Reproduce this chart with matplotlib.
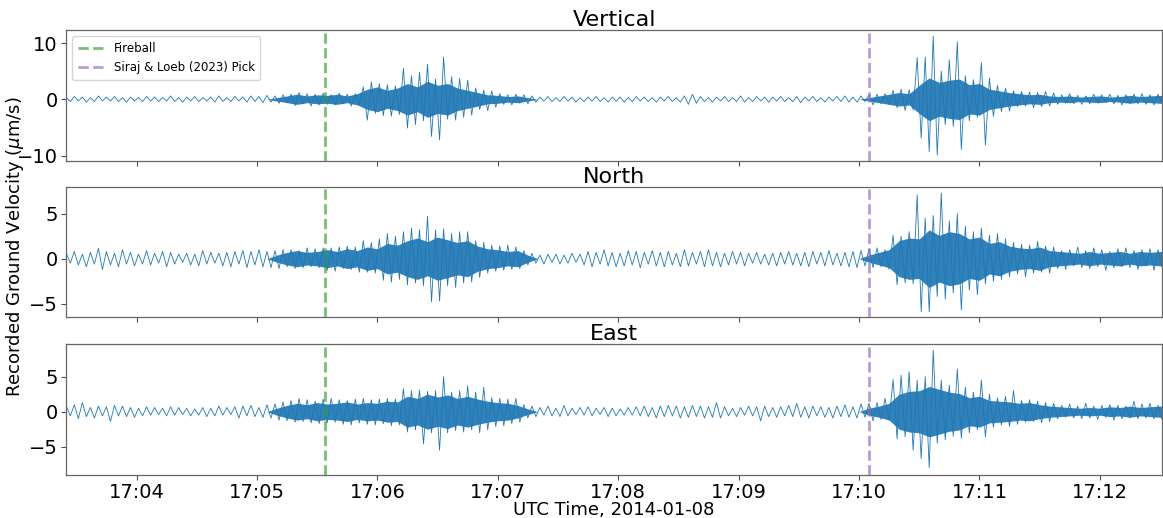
import numpy as np
import matplotlib
matplotlib.use("Agg")
import matplotlib.pyplot as plt

# ---------------- data ----------------
# time axis: seconds after 17:04:00 UTC, 2014-01-08
t_start = -35.0          # first sample of the series
ext_step = 2.0           # seconds between successive read extrema
core_step = 5.0          # seconds between dense-band half-width readings
x_limits = (-35.0, 511.0)

tick_seconds = [0, 60, 120, 180, 240, 300, 360, 420, 480]
tick_labels = ["17:04", "17:05", "17:06", "17:07", "17:08",
               "17:09", "17:10", "17:11", "17:12"]

fireball_time = 93.7      # 17:05:33.7
pick_time = 365.0         # 17:10:05

# successive peaks/troughs of the traces (um/s)
vertical_ext = [
    0.3,-0.4,0.5,-0.3,0.4,-0.5,0.3,-0.4,0.6,-0.3,
    0.4,-0.3,0.5,-0.4,0.3,-0.5,0.4,-0.3,0.3,-0.4,
    0.5,-0.3,0.4,-0.4,0.3,-0.3,0.6,-0.4,0.3,-0.5,
    0.4,-0.3,0.5,-0.4,0.3,-0.3,0.4,-0.5,0.6,-0.4,
    0.3,-0.4,0.5,-0.3,0.4,-0.5,0.6,-0.4,0.5,-0.6,
    0.7,-0.5,0.6,-0.7,0.8,-0.6,
    0.9,-1.1,1.2,-0.8,1.0,-1.2,0.9,-1.0,1.1,
    -0.9,0.8,-1.0,1.1,-0.8,0.9,-1.2,1.0,-0.9,
    2.2,-3.7,3.1,-2.5,2.8,
    -2.9,2.6,-3.0,2.4,-2.7,
    5.5,-5.1,4.2,-4.5,4.8,
    -3.8,6.2,-6.6,
    3.6,-7.2,7.5,
    -3.5,4.0,-3.7,3.7,-3.2,3.4,-2.8,
    2.0,-1.8,1.6,-2.0,1.5,-1.4,
    1.0,-0.9,0.8,-1.0,0.9,-0.7,0.8,-0.8,0.6,
    -0.5,0.4,-0.3,0.5,-0.4,0.3,-0.4,0.5,-0.3,0.4,
    -0.5,0.3,-0.4,0.4,-0.3,0.5,-0.4,0.3,-0.5,0.4,
    -0.3,0.4,-0.5,0.3,-0.4,0.5,-0.3,0.4,-0.4,0.3,
    -0.5,0.4,-0.3,0.5,-0.4,0.3,-0.5,0.6,-0.9,0.9,
    -0.7,0.5,-0.4,0.3,-0.5,0.4,-0.3,0.5,-0.4,0.3,
    -0.4,0.6,-0.5,0.3,-0.4,0.5,-0.3,0.4,-0.5,0.4,
    -0.3,0.5,-0.4,0.3,-0.4,0.5,-0.6,0.4,-0.3,0.5,
    -0.4,0.3,-0.5,0.4,-0.3,0.5,-0.4,0.6,-0.5,0.4,
    -0.5,0.6,-0.4,
    0.8,-1.0,0.9,-0.8,1.0,-0.9,
    1.6,-1.5,1.8,-2.0,1.7,-1.9,
    7.4,-6.9,7.5,-9.3,11.2,-9.9,
    5.0,-4.5,7.0,-4.8,
    10.2,-8.9,4.2,
    -3.8,3.5,-3.2,6.5,-8.1,3.8,
    -3.0,2.5,-2.2,2.0,-2.1,
    1.5,-1.3,1.4,-1.2,1.3,-1.5,1.2,-1.3,1.4,-1.2,1.1,
    -0.9,0.8,-0.7,1.0,-0.8,0.7,-0.9,0.6,-0.8,0.9,
    -0.7,0.8,-0.6,0.9,-0.8,0.7,-1.0,0.8,-0.7,0.9,
    -0.8,1.0,-0.9,0.8,-1.0,0.9,-0.8,
]

north_ext = [
    0.6,-0.5,0.8,-0.7,0.5,-0.9,0.7,-0.6,1.15,-1.2,
    0.8,-0.7,0.6,-0.9,1.0,-0.6,0.7,-0.8,0.5,-0.6,
    0.9,-0.7,0.6,-0.5,0.8,-0.9,0.7,-0.6,0.5,-0.4,
    0.6,-0.7,0.5,-0.8,0.9,-0.6,0.7,-0.5,0.6,-0.8,
    0.7,-0.9,0.8,-0.6,0.9,-1.0,0.8,-0.7,1.0,-0.9,
    0.8,-1.0,0.9,-1.1,1.0,-0.9,
    1.0,-1.1,0.9,-1.0,1.2,-0.9,1.1,-1.0,1.2,
    -1.3,1.2,-1.4,1.3,-1.1,1.4,-1.2,1.3,-1.5,
    2.0,-1.5,1.8,-1.6,2.2,
    -2.4,2.8,-2.6,2.5,-2.3,
    3.0,-2.9,3.4,-2.7,3.2,
    -3.0,4.7,-4.8,
    3.2,-4.7,3.3,
    -3.0,2.8,-3.2,3.0,-2.7,3.0,-2.6,
    2.0,-2.1,1.8,-1.6,1.5,-1.4,
    1.4,-1.3,1.5,-1.2,1.3,-1.1,0.9,-0.7,0.6,
    -0.5,0.4,-0.6,0.5,-0.4,0.5,-0.6,0.4,-0.5,0.6,-0.4,0.5,-0.7,
    0.8,-0.9,0.7,-0.6,1.0,-0.8,0.7,-0.9,0.6,-0.8,
    0.9,-0.7,0.8,-1.0,0.7,-0.6,0.9,-0.8,0.7,-0.9,
    0.8,-0.7,0.6,-0.9,1.0,-0.8,0.7,-0.6,0.8,-0.9,
    1.0,-0.8,0.7,-0.9,0.6,-0.7,0.8,-0.6,0.7,-0.8,
    0.6,-0.5,0.7,-0.6,0.5,-0.7,0.6,-0.8,0.7,-0.6,
    0.8,-0.7,0.6,-0.8,0.7,-0.9,0.8,-0.6,0.7,-0.8,
    0.9,-0.7,0.6,-0.8,0.7,-0.9,0.8,-1.0,0.9,-0.8,
    1.1,-1.0,1.2,-0.9,1.0,-1.2,
    2.6,-2.9,2.5,-2.7,3.0,-2.8,
    7.1,-5.9,4.5,-5.9,4.8,-4.2,
    7.3,-4.5,4.2,-3.8,
    5.0,-5.7,3.6,
    -3.5,3.0,-4.0,3.4,-2.8,2.6,
    -2.5,2.8,-2.3,2.2,-2.0,
    1.8,-1.7,1.6,-2.0,1.5,-1.6,1.9,-1.5,1.4,-1.6,1.3,
    -1.1,0.9,-1.2,1.0,-0.8,1.3,-1.0,0.9,-1.1,1.2,
    -0.9,1.0,-1.3,0.8,-1.0,1.1,-0.9,1.2,-1.0,0.9,
    -1.2,1.0,-0.8,1.1,-1.3,1.0,-0.9,
]

east_ext = [
    0.8,-0.6,1.0,-1.0,1.3,-0.7,0.6,-0.9,0.8,-0.6,
    0.7,-1.4,0.9,-0.6,0.8,-0.7,0.6,-0.8,0.5,-0.6,
    0.7,-0.5,0.6,-0.4,0.5,-0.6,0.7,-0.5,0.6,-0.4,
    0.5,-0.6,0.4,-0.5,0.6,-0.7,0.5,-0.6,0.8,-0.5,
    0.6,-0.4,0.7,-0.9,0.8,-0.6,0.9,-0.7,0.6,-0.8,
    1.0,-0.9,1.1,-1.2,1.4,-1.3,
    1.6,-1.5,1.9,-1.4,1.7,-1.6,1.5,-1.7,1.8,
    -1.6,1.9,-1.5,1.7,-1.8,1.6,-1.9,1.8,-1.6,
    1.9,-1.8,1.7,-1.9,1.8,
    -1.7,1.9,-2.0,1.8,-1.9,
    3.3,-2.9,3.0,-2.6,3.1,
    -4.6,2.9,-3.0,
    3.0,-5.5,5.0,
    -3.0,2.8,-2.7,3.0,-2.9,3.7,-2.6,
    2.8,-3.0,3.5,-2.6,2.0,-2.1,
    1.9,-2.0,1.8,-1.7,1.9,-1.5,1.0,-0.9,0.8,
    -0.7,0.6,-0.5,0.8,-0.6,0.5,-0.7,0.9,-0.6,0.5,
    -0.4,0.6,-0.5,0.7,-0.6,0.5,-0.4,0.6,-0.7,0.5,
    -0.6,0.4,-0.5,0.6,-0.5,0.7,-0.6,0.8,-0.7,0.6,
    -0.9,0.8,-0.7,0.9,-0.6,0.8,-0.9,0.7,-0.8,0.9,
    -0.7,0.8,-0.9,0.7,-0.8,1.3,-0.9,0.7,-0.6,0.5,
    -0.7,0.6,-0.5,0.8,-0.6,0.7,-1.3,0.8,-0.7,0.6,
    -0.8,0.7,-0.6,0.9,-0.7,1.2,-0.8,0.7,-0.9,0.8,
    -0.6,0.7,-0.8,0.6,-0.9,0.8,-0.7,1.0,-0.8,0.7,
    -0.9,1.1,-0.8,
    1.2,-1.3,1.3,-1.1,1.9,-1.2,
    4.6,-3.9,5.2,-3.6,5.7,-5.5,
    4.5,-6.7,5.0,-8.0,8.8,-4.5,
    4.5,-4.0,3.8,-3.5,
    6.1,-3.8,3.5,
    -3.0,2.8,-2.6,4.5,-3.6,2.5,
    -2.2,2.0,-1.9,2.2,-2.1,
    3.0,-1.8,1.6,-1.5,1.7,-1.4,1.5,-1.6,1.3,-1.4,1.2,
    -1.0,0.9,-0.8,1.1,-0.9,0.8,-1.0,1.2,-0.9,0.8,
    -1.1,0.9,-0.8,1.0,-1.2,0.9,-1.0,0.8,-0.9,1.5,
    -1.0,1.1,-0.9,1.2,-1.0,0.9,-1.1,
]

# half-width of the solid (densely oscillating) band, every 5 s from -35 s
vertical_core = [0]*21 + [
    0.3,0.6,0.9,0.6,0.8,0.7,0.9,0.6,1.0,1.8,2.2,1.6,2.0,2.8,
    2.2,3.2,2.5,2.8,2.0,1.6,1.2,0.8,0.7,0.5,0.6,0.3,0] + [0]*32 + [
    0.3,0.6,0.9,1.2,1.0,2.5,3.8,3.0,3.4,3.6,2.6,2.8,1.8,1.5,1.2,1.0,
    0.8,0.9,0.6,0.5,0.6,0.4,0.5,0.6,0.4,0.5,0.7,0.5,0.6,0.7,0.6]
north_core = [0]*21 + [
    0.4,0.7,0.9,0.7,0.8,1.0,0.8,1.1,0.9,1.3,1.1,1.7,1.5,2.0,
    2.3,1.9,2.4,2.1,1.8,2.0,1.4,1.1,1.0,0.8,0.9,0.4,0] + [0]*32 + [
    0.4,0.7,1.0,2.0,2.3,2.2,3.2,2.6,3.0,2.8,2.2,2.4,1.7,1.9,1.4,1.2,
    1.1,1.3,0.9,0.8,0.7,0.6,0.8,0.6,0.7,0.8,0.6,0.8,0.7,0.8,0.7]
east_core = [0]*21 + [
    0.5,0.9,1.2,1.0,1.3,1.1,1.2,1.4,1.1,1.3,1.2,1.5,1.4,2.2,
    1.9,2.5,2.1,2.4,1.9,2.2,1.8,1.5,1.3,1.2,0.9,0.4,0] + [0]*32 + [
    0.5,0.8,1.2,2.5,2.9,3.0,3.6,3.2,2.8,2.6,2.0,2.2,1.6,1.5,1.4,1.2,
    1.3,1.0,0.8,0.7,0.6,0.5,0.6,0.5,0.7,0.6,0.8,0.6,0.7,0.8,0.7]

panel_titles = ["Vertical", "North", "East"]
panel_ylims = [(-10.96, 12.26), (-6.48, 7.93), (-9.0, 9.67)]
panel_yticks = [[-10, 0, 10], [-5, 0, 5], [-5, 0, 5]]

# ---------------- figure ----------------
W, H = 1163, 518
fig = plt.figure(figsize=(W / 100, H / 100), dpi=100)

left = 66.3 / W
width = (1162.0 - 66.3) / W
boxes = [(30.3, 161.0), (187.3, 317.0), (344.0, 474.7)]  # top/bottom pixels

trace_color = "#1f77b4"
series = [(vertical_ext, vertical_core), (north_ext, north_core), (east_ext, east_core)]

axes = []
for i, ((top, bot), (ext, core)) in enumerate(zip(boxes, series)):
    ax = fig.add_axes([left, 1 - bot / H, width, (bot - top) / H],
                      sharex=axes[0] if axes else None)
    axes.append(ax)
    ext = np.asarray(ext, dtype=float)
    core = np.asarray(core, dtype=float)
    t_ext = t_start + ext_step * np.arange(len(ext))
    t_core = t_start + core_step * np.arange(len(core))
    ax.fill_between(t_core, -core, core, color=trace_color, lw=0, alpha=0.92, zorder=1)
    ax.plot(t_ext, ext, color=trace_color, lw=0.6, zorder=2)

    ax.axvline(fireball_time, color="#2ca02c", ls="--", lw=2, alpha=0.65,
               label="Fireball", zorder=3)
    ax.axvline(pick_time, color="#9467bd", ls="--", lw=2, alpha=0.65,
               label="Siraj & Loeb (2023) Pick", zorder=3)

    ax.set_ylim(*panel_ylims[i])
    ax.set_yticks(panel_yticks[i])
    ax.set_title(panel_titles[i], fontsize=16, pad=3)
    ax.tick_params(axis="both", labelsize=14, color="0.3", length=3.5, pad=2.5)
    for sp in ax.spines.values():
        sp.set_color("0.4")
        sp.set_linewidth(0.9)
    if i == 0:
        ax.legend(loc="upper left", fontsize=8.5, framealpha=0.8,
                  borderpad=0.5, handlelength=2.2)
    if i < 2:
        plt.setp(ax.get_xticklabels(), visible=False)

axes[0].set_xlim(*x_limits)
axes[-1].set_xticks(tick_seconds)
axes[-1].set_xticklabels(tick_labels)
axes[-1].set_xlabel("UTC Time, 2014-01-08", fontsize=13, labelpad=-1)

fig.text(15 / W, 0.523, "Recorded Ground Velocity ($\\mu$m/s)", rotation=90,
         ha="center", va="center", fontsize=13)

fig.savefig("out.png", dpi=100)
